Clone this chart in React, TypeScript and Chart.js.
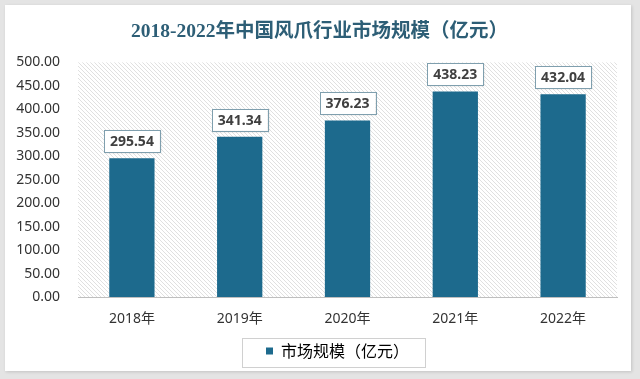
import React, { useEffect, useRef } from "react";
import { Chart, registerables } from "chart.js";

Chart.register(...registerables);

const titleText = "2018-2022年中国风爪行业市场规模（亿元）";
const seriesName = "市场规模（亿元）";
const categories = ["2018年", "2019年", "2020年", "2021年", "2022年"];
const marketSize = [295.54, 341.34, 376.23, 438.23, 432.04];
const yMin = 0;
const yMax = 500;
const yStep = 50;

const BAR_COLOR = "#1d6a8d";
const LEGEND_SHIFT = 24;
const LEGEND_FONT = 16;
const LEGEND_PAD = 10;

const hatchPlugin = {
  id: "hatchBg",
  beforeDraw(chart: any) {
    const { ctx, chartArea } = chart;
    if (!chartArea) return;
    const pc = document.createElement("canvas");
    pc.width = 4;
    pc.height = 4;
    const p = pc.getContext("2d")!;
    p.fillStyle = "#ffffff";
    p.fillRect(0, 0, 4, 4);
    p.strokeStyle = "#e0e0e0";
    p.lineWidth = 1;
    p.beginPath();
    p.moveTo(-1, -1);
    p.lineTo(5, 5);
    p.moveTo(-1, 3);
    p.lineTo(1, 5);
    p.moveTo(3, -1);
    p.lineTo(5, 1);
    p.stroke();
    const pattern = ctx.createPattern(pc, "repeat");
    ctx.save();
    ctx.fillStyle = pattern;
    ctx.fillRect(chartArea.left, chartArea.top, chartArea.right - chartArea.left, chartArea.bottom - chartArea.top);
    ctx.restore();
  },
};

const shiftPlugin = {
  id: "shiftBoxes",
  afterLayout(chart: any) {
    const lg = chart.legend;
    if (lg) {
      lg.left += LEGEND_SHIFT;
      lg.right += LEGEND_SHIFT;
    }
    const tt = chart.titleBlock;
    if (tt) {
      tt.left += 6;
      tt.right += 6;
    }
  },
};

const labelPlugin = {
  id: "boxLabels",
  afterDatasetsDraw(chart: any) {
    const { ctx } = chart;
    const meta = chart.getDatasetMeta(0);
    const data = chart.data.datasets[0].data as number[];
    ctx.save();
    ctx.font = "bold 14px 'Noto Sans', sans-serif";
    ctx.textAlign = "center";
    ctx.textBaseline = "middle";
    meta.data.forEach((el: any, i: number) => {
      const txt = data[i].toFixed(2);
      const w = ctx.measureText(txt).width + 12;
      const h = 22;
      const x = el.x - w / 2;
      const y = el.y - 6 - h;
      ctx.shadowColor = "rgba(0,0,0,0.15)";
      ctx.shadowBlur = 2;
      ctx.shadowOffsetX = 1;
      ctx.shadowOffsetY = 1;
      ctx.fillStyle = "#ffffff";
      ctx.fillRect(x, y, w, h);
      ctx.shadowColor = "transparent";
      ctx.strokeStyle = "#7f9fae";
      ctx.lineWidth = 1;
      ctx.strokeRect(Math.round(x) + 0.5, Math.round(y) + 0.5, Math.round(w), h);
      ctx.fillStyle = "#404040";
      ctx.fillText(txt, el.x, y + h / 2 + 1);
    });
    ctx.restore();
  },
};

const legendBoxPlugin = {
  id: "legendBox",
  afterDraw(chart: any) {
    const lg = chart.legend;
    if (!lg) return;
    const { ctx } = chart;
    ctx.save();
    ctx.font = `${LEGEND_FONT}px 'Noto Sans CJK SC', sans-serif`;
    const textW = ctx.measureText(seriesName).width;
    const itemW = 7 + LEGEND_FONT / 2 + textW;
    const cx = (lg.left + lg.right) / 2;
    const itemLeft = cx - itemW / 2;
    const itemTop = lg.top + LEGEND_PAD;
    const itemH = LEGEND_FONT * 1.2;
    ctx.strokeStyle = "#d0d0d0";
    ctx.lineWidth = 1;
    const l = Math.round(itemLeft - 24) + 0.5;
    const t = Math.round(itemTop - 5) + 0.5;
    const r = Math.round(itemLeft + itemW + 16) + 0.5;
    const b = Math.round(itemTop + itemH + 5) + 0.5;
    ctx.strokeRect(l, t, r - l, b - t);
    ctx.restore();
  },
};

export default function App() {
  const ref = useRef<HTMLCanvasElement>(null);

  useEffect(() => {
    document.body.style.margin = "0";
    const canvas = ref.current!;
    const chart = new Chart(canvas, {
      type: "bar",
      data: {
        labels: categories,
        datasets: [
          {
            label: seriesName,
            data: marketSize,
            backgroundColor: BAR_COLOR,
            borderWidth: 0,
            barPercentage: 0.84,
            categoryPercentage: 0.5,
          },
        ],
      },
      options: {
        responsive: false,
        animation: false,
        layout: { padding: { left: 10, right: 23, top: 0, bottom: 10 } },
        plugins: {
          title: {
            display: true,
            text: titleText,
            color: "#2d5e76",
            font: { family: "'Liberation Serif', 'Noto Sans CJK SC', serif", size: 19.5, weight: "bold" },
            padding: { top: 20, bottom: 19 },
          },
          legend: {
            display: true,
            position: "bottom",
            labels: {
              boxWidth: 7,
              boxHeight: 7,
              padding: LEGEND_PAD,
              color: "#333333",
              font: { family: "'Noto Sans CJK SC', sans-serif", size: LEGEND_FONT },
              generateLabels: () => [
                {
                  text: seriesName,
                  fillStyle: BAR_COLOR,
                  strokeStyle: BAR_COLOR,
                  lineWidth: 0,
                  hidden: false,
                  datasetIndex: 0,
                },
              ],
            },
          },
          tooltip: { enabled: false },
        },
        scales: {
          x: {
            grid: { display: false, drawTicks: false },
            border: { display: true, color: "#bfbfbf", width: 1 },
            ticks: {
              color: "#333333",
              padding: 14,
              font: { family: "'Noto Sans', 'Noto Sans CJK SC', sans-serif", size: 14 },
            },
            afterFit: (s: any) => {
              s.height = 36;
            },
          },
          y: {
            min: yMin,
            max: yMax,
            grid: { display: false, drawTicks: false },
            border: { display: false },
            ticks: {
              stepSize: yStep,
              color: "#333333",
              padding: 18,
              font: { family: "'Noto Sans', sans-serif", size: 14 },
              callback: (v: any) => Number(v).toFixed(2),
            },
            afterFit: (s: any) => {
              s.width = 68;
            },
          },
        },
      },
      plugins: [hatchPlugin, shiftPlugin, labelPlugin, legendBoxPlugin],
    });
    return () => chart.destroy();
  }, []);

  return (
    <div style={{ position: "relative", width: 640, height: 379, background: "#e4e4e4", overflow: "hidden" }}>
      <div
        style={{
          position: "absolute",
          left: 5,
          top: 5,
          width: 626,
          height: 366,
          background: "#ffffff",
          boxShadow: "1px 1px 3px rgba(0,0,0,0.15)",
        }}
      />
      <canvas ref={ref} width={640} height={379} style={{ position: "absolute", left: 0, top: 0 }} />
    </div>
  );
}
